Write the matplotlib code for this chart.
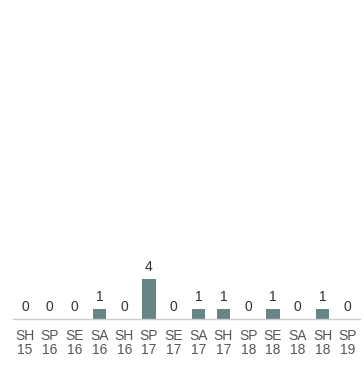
import matplotlib.pyplot as plt
import numpy as np

plt.rcParams['font.family'] = ['Liberation Sans', 'DejaVu Sans']

seasons = ["SH", "SP", "SE", "SA", "SH", "SP", "SE", "SA", "SH", "SP", "SE", "SA", "SH", "SP"]
years = ["15", "16", "16", "16", "16", "17", "17", "17", "17", "18", "18", "18", "18", "19"]
counts = [0, 0, 0, 1, 0, 4, 0, 1, 1, 0, 1, 0, 1, 0]

W, H = 364, 370
fig = plt.figure(figsize=(W / 100, H / 100), dpi=100)

# axes box in pixels: left 12.6, right 359.8, baseline 319, top 20
left, right, bottom, top = 12.6, 359.8, 319, 20
ax = fig.add_axes([left / W, (H - bottom) / H, (right - left) / W, (bottom - top) / H])

x = np.arange(len(counts))
ax.bar(x, counts, width=0.54, color='#678586')
ax.set_xlim(-0.5, len(counts) - 0.5)
ax.set_ylim(0, (bottom - top) / 10)

for xi, c in zip(x, counts):
    ax.annotate(str(c), (xi, c), xytext=(0, 5), textcoords='offset pixels',
                ha='center', va='bottom', fontsize=10, color='#333333')

ax.set_xticks(x)
ax.set_xticklabels([f"{s}\n{y}" for s, y in zip(seasons, years)],
                   fontsize=10, color='#555555', linespacing=1.0)
ax.tick_params(axis='x', length=0, pad=7)
ax.set_yticks([])
for side in ['top', 'right', 'left']:
    ax.spines[side].set_visible(False)
ax.spines['bottom'].set_color('#cccccc')
ax.spines['bottom'].set_linewidth(1)

fig.savefig('out.png', dpi=100)
